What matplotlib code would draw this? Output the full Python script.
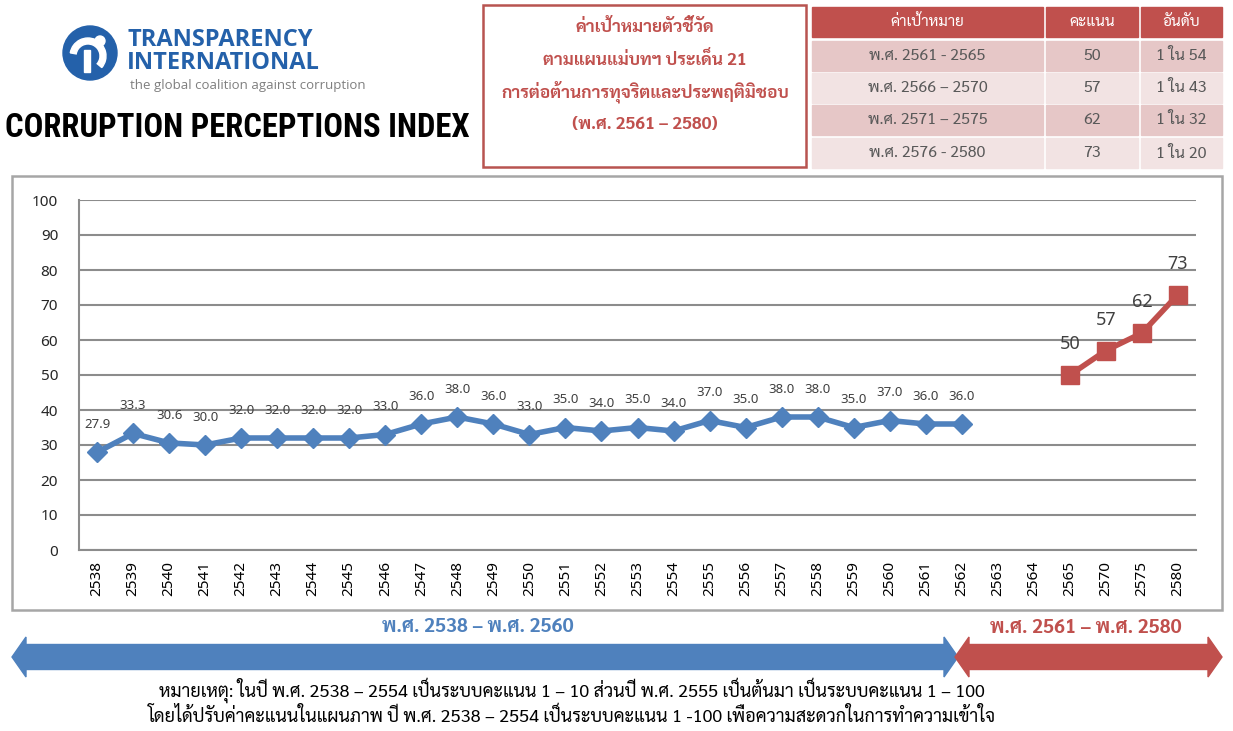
import matplotlib
matplotlib.use("Agg")
import matplotlib.pyplot as plt
from matplotlib.patches import Rectangle, Circle, Wedge, Polygon

# ---- data ----
years = [str(y) for y in range(2538, 2565)] + ["2565", "2570", "2575", "2580"]
cpi_actual = [27.9, 33.3, 30.6, 30.0, 32.0, 32.0, 32.0, 32.0, 33.0, 36.0, 38.0, 36.0, 33.0,
              35.0, 34.0, 35.0, 34.0, 37.0, 35.0, 38.0, 38.0, 35.0, 37.0, 36.0, 36.0]
target_years = ["2565", "2570", "2575", "2580"]
cpi_target = [50, 57, 62, 73]

table_header = ["ค่าเป้าหมาย", "คะแนน", "อันดับ"]
table_periods = ["พ.ศ. 2561 - 2565", "พ.ศ. 2566 – 2570", "พ.ศ. 2571 – 2575", "พ.ศ. 2576 - 2580"]
table_scores = ["50", "57", "62", "73"]
table_ranks = ["1 ใน 54", "1 ใน 43", "1 ใน 32", "1 ใน 20"]

title_lines = ["ค่าเป้าหมายตัวชี้วัด", "ตามแผนแม่บทฯ ประเด็น 21",
               "การต่อต้านการทุจริตและประพฤติมิชอบ", "(พ.ศ. 2561 – 2580)"]
note_lines = ["หมายเหตุ: ในปี พ.ศ. 2538 – 2554 เป็นระบบคะแนน 1 – 10 ส่วนปี พ.ศ. 2555 เป็นต้นมา เป็นระบบคะแนน 1 – 100",
              "โดยได้ปรับค่าคะแนนในแผนภาพ ปี พ.ศ. 2538 – 2554 เป็นระบบคะแนน 1 -100 เพื่อความสะดวกในการทำความเข้าใจ"]

BLUE = "#4F81BD"
RED = "#C0504D"
TI_BLUE = "#2461AA"
THAI = ["Sarabun", "Noto Sans Thai", "Anuphan", "DejaVu Sans"]
LATIN = ["Noto Sans", "DejaVu Sans"]

fig = plt.figure(figsize=(12.33, 7.31), dpi=100)

# background canvas in pixel units for the decorations
bg = fig.add_axes([0, 0, 1, 1])
bg.set_xlim(0, 1233)
bg.set_ylim(731, 0)
bg.axis("off")

# logo
bg.add_patch(Circle((90, 53), 27, color=TI_BLUE))
bg.add_patch(Wedge((88, 56), 18, 190, 40, width=6, color="white"))
bg.add_patch(Circle((100, 41), 5, color="white"))
bg.add_patch(Rectangle((84, 50), 6, 22, color="white"))
bg.text(127, 40, "TRANSPARENCY", fontsize=17, fontweight="bold", color=TI_BLUE,
        family=["Open Sans", "DejaVu Sans"], va="center", ha="left")
bg.text(127, 63, "INTERNATIONAL", fontsize=17, fontweight="bold", color=TI_BLUE,
        family=["Open Sans", "DejaVu Sans"], va="center", ha="left")
bg.text(130, 86, "the global coalition against corruption", fontsize=9.5, color="#7F7F7F",
        family=["Open Sans", "DejaVu Sans"], va="center", ha="left")
bg.text(5, 128, "CORRUPTION PERCEPTIONS INDEX", fontsize=23.5, fontweight="bold", color="black",
        family=["Roboto Condensed", "Archivo Narrow", "Liberation Sans Narrow", "DejaVu Sans"],
        va="center", ha="left")

# title box
bg.add_patch(Rectangle((483, 5), 323, 162, fill=False, edgecolor="#B85450", lw=1.8))
for i, line in enumerate(title_lines):
    bg.text(645, 28 + i * 32, line, fontsize=12.5, fontweight="bold", color=RED,
            family=THAI, ha="center", va="center")

# target table
col_x = [812, 1046, 1141]
col_w = [231, 92, 81]
row_y = [7, 41, 73, 105, 138]
row_h = 30
for c in range(3):
    bg.add_patch(Rectangle((col_x[c], row_y[0]), col_w[c], row_h, color=RED))
    bg.text(col_x[c] + col_w[c] / 2, row_y[0] + row_h / 2, table_header[c], fontsize=11,
            color="white", family=THAI, ha="center", va="center")
for r in range(4):
    fill = "#E6C7C7" if r % 2 == 0 else "#F2E3E3"
    cells = [table_periods[r], table_scores[r], table_ranks[r]]
    for c in range(3):
        bg.add_patch(Rectangle((col_x[c], row_y[r + 1]), col_w[c], row_h, color=fill))
        bg.text(col_x[c] + col_w[c] / 2, row_y[r + 1] + row_h / 2, cells[c], fontsize=11.5,
                color="#595959", family=THAI, ha="center", va="center")

# chart frame
bg.add_patch(Rectangle((12, 176), 1210, 434, fill=False, edgecolor="#A6A6A6", lw=1.8))

# period arrows
def double_arrow(x0, x1, yc, body, head, hl, color):
    pts = [(x0, yc), (x0 + hl, yc - head), (x0 + hl, yc - body), (x1 - hl, yc - body),
           (x1 - hl, yc - head), (x1, yc), (x1 - hl, yc + head), (x1 - hl, yc + body),
           (x0 + hl, yc + body), (x0 + hl, yc + head)]
    bg.add_patch(Polygon(pts, closed=True, color=color))

double_arrow(12, 958, 657, 12.5, 20, 14, BLUE)
double_arrow(955, 1222, 657, 12.5, 20, 14, RED)
bg.text(478, 627, "พ.ศ. 2538 – พ.ศ. 2560", fontsize=14, fontweight="bold", color=BLUE,
        family=THAI, ha="center", va="center")
bg.text(1086, 628, "พ.ศ. 2561 – พ.ศ. 2580", fontsize=14, fontweight="bold", color=RED,
        family=THAI, ha="center", va="center")
for i, line in enumerate(note_lines):
    bg.text(572, 690 + i * 26, line, fontsize=13, color="black", family=THAI,
            ha="center", va="center")

# ---- chart ----
ax = fig.add_axes([79 / 1233, 1 - 550 / 731, (1196 - 79) / 1233, 350 / 731])
ax.patch.set_alpha(0)
x_actual = list(range(len(cpi_actual)))
x_target = [years.index(y) for y in target_years]

ax.plot(x_actual, cpi_actual, color=BLUE, lw=4, marker="D", ms=10.5, zorder=3)
ax.plot(x_target, cpi_target, color=RED, lw=4, marker="s", ms=13, zorder=3)
for x, v in zip(x_actual, cpi_actual):
    ax.annotate(f"{v:.1f}", (x, v), xytext=(0, 20), textcoords="offset points",
                ha="center", va="center", fontsize=9.5, color="#404040", family=LATIN)
for x, v in zip(x_target, cpi_target):
    ax.annotate(f"{v}", (x, v), xytext=(0, 22), textcoords="offset points",
                ha="center", va="center", fontsize=13, color="#404040", family=LATIN)

ax.set_xlim(-0.5, len(years) - 0.5)
ax.set_ylim(0, 100)
ax.set_yticks(range(0, 101, 10))
ax.set_xticks(range(len(years)))
ax.set_xticklabels(years, rotation=90, fontsize=11, fontweight="semibold", family=LATIN)
ax.tick_params(axis="both", length=0, colors="black")
ax.tick_params(axis="y", pad=15, labelsize=11, labelcolor="#262626")
ax.tick_params(axis="x", pad=8)
ax.grid(axis="y", color="#8C8C8C", lw=1.5)
ax.set_axisbelow(True)
for s in ["top", "right"]:
    ax.spines[s].set_visible(False)
ax.spines["left"].set_color("#8C8C8C")
ax.spines["bottom"].set_color("#8C8C8C")
ax.spines["left"].set_linewidth(1.5)
ax.spines["bottom"].set_linewidth(1.5)
for lbl in ax.get_yticklabels():
    lbl.set_family(LATIN)

fig.savefig("out.png", dpi=100)
